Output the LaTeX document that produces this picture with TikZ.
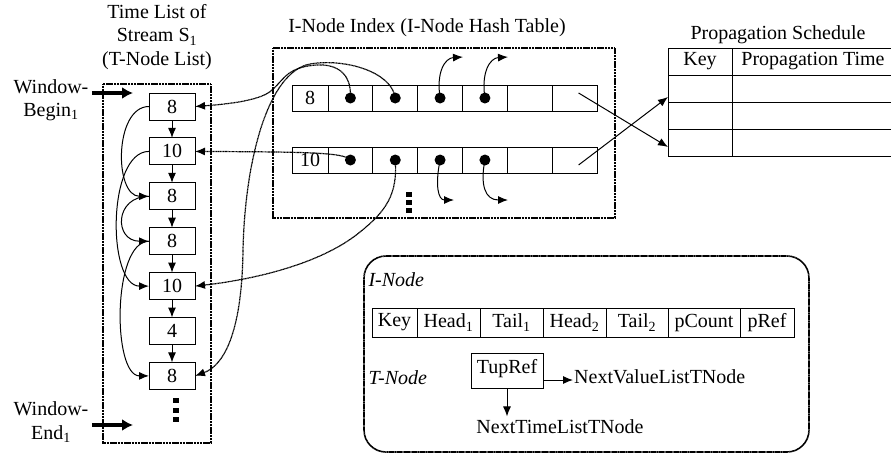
\documentclass[tikz,border=0pt]{standalone}
\usepackage{fontspec}
\setmainfont{Liberation Serif}
\usetikzlibrary{arrows.meta,positioning}

\newcommand{\figfont}{\fontsize{20}{23.5}\selectfont}

\begin{document}
\begin{tikzpicture}[
    x=1pt, y=-1pt,
    every node/.style={font=\figfont},
    frame/.style={line width=1.6pt, dash pattern=on 1.2pt off 0.35pt},
    tnode/.style={draw, line width=0.9pt, minimum width=46pt, minimum height=27pt, inner sep=0pt, outer sep=0pt},
    cell/.style={draw, line width=0.9pt, minimum width=44.8pt, minimum height=26pt, inner sep=0pt, outer sep=0pt},
    tcell/.style={draw, line width=0.9pt, minimum height=27pt, inner sep=0pt, outer sep=0pt},
    field/.style={draw, line width=0.9pt, minimum height=29pt, inner sep=0pt, outer sep=0pt},
    dot/.style={circle, fill, inner sep=0pt, minimum size=11pt},
    ptr/.style={line width=1.2pt, dash pattern=on 1pt off 0.45pt, -{Latex[length=10pt,width=8pt]}},
    link/.style={line width=1pt, -{Latex[length=10pt,width=8pt]}},
    wptr/.style={line width=3.8pt, -{Latex[length=11pt,width=12pt]}}
]
    \useasboundingbox (0,0) rectangle (891,456);

    % Time list of stream S1
    \node[align=center] (tltitle) at (157,37) {Time List of\\Stream S\textsubscript{1}\\(T-Node List)};
    \draw[frame] (103,84) rectangle (211,443);

    \foreach \v [count=\i] in {8,10,8,8,10,4,8} {
        \pgfmathsetmacro{\ty}{106.5 + (\i-1)*44.9}
        \node[tnode] (t\i) at (172,\ty) {\v};
    }
    \foreach \i [evaluate=\i as \j using int(\i+1)] in {1,...,6} {
        \draw[link] (t\i.south) -- (t\j.north);
    }
    \foreach \k in {0,1,2} {
        \fill (173,398+\k*9.5) rectangle ++(6,5);
    }

    % value list links
    \draw[link] (t1.west) to[out=180,in=180,looseness=1] (t3.west);
    \draw[link] (t2.west) to[out=180,in=180,looseness=0.8] (t5.west);
    \draw[link] (t3.west) to[out=180,in=180,looseness=2] (t4.west);
    \draw[link] (t4.west) to[out=180,in=180,looseness=0.7] (t7.west);

    % window pointers
    \node[align=center] (wb) at (51,100) {Window-\\Begin\textsubscript{1}};
    \coordinate (wbe) at (133,93);
    \draw[wptr] (wb.east |- wbe) -- (wbe);
    \node[align=center] (we) at (51,422) {Window-\\End\textsubscript{1}};
    \coordinate (wee) at (133,425);
    \draw[wptr] (we.east |- wee) -- (wee);

    %%%%%%%%%%%%%%%%%%%%%%%%%%%%%%%%%%%%%%%%%%%%%%%%%%%%%%%%%%%%%%%%%%%%%%%%%%%%%%%%%%%%

    % I-Node hash table
    \node (hititle) at (427,28) {I-Node Index (I-Node Hash Table)};
    \draw[frame] (273,48) rectangle (615,218);

    \node[cell, minimum width=36pt] (a0) at (310,98) {8};
    \node[cell, minimum width=36pt] (b0) at (310,160) {10};
    \foreach \k in {1,...,6} {
        \pgfmathsetmacro{\cx}{328 + 44.83*\k - 22.4}
        \node[cell] (a\k) at (\cx,98) {};
        \node[cell] (b\k) at (\cx,160) {};
    }
    \foreach \k in {1,...,4} {
        \node[dot] (da\k) at (a\k) {};
        \node[dot] (db\k) at (b\k) {};
    }
    \foreach \k in {0,1,2} {
        \fill (406,192+\k*8) rectangle ++(6,5);
    }

    % head / tail pointers into the time list
    \draw[ptr] (da1.center) .. controls (352,68) and (330,62) .. (308,66)
        .. controls (285,70) and (282,82) .. (272,90)
        .. controls (262,100) and (230,104) .. (t1.east);
    \draw[ptr] (db1.center) .. controls (345,152) and (300,152) .. (t2.east);
    \draw[ptr] (da2.center) .. controls (392,72) and (345,58) .. (310,64)
        .. controls (268,72) and (245,160) .. (243,250)
        .. controls (242,330) and (225,365) .. (t7.east);
    \draw[ptr] (db2.center) .. controls (398,195) and (385,212) .. (360,232)
        .. controls (320,265) and (250,280) .. (t5.east);

    % pointers of the value lists
    \coordinate (ua3) at (463,57);
    \coordinate (ua4) at (508,57);
    \coordinate (ub3) at (454,200);
    \coordinate (ub4) at (508,200);
    \draw[link] (da3.center) .. controls (436,72) and (445,58) .. (ua3);
    \draw[link] (da4.center) .. controls (481,72) and (490,58) .. (ua4);
    \draw[link] (db3.center) .. controls (435,185) and (438,200) .. (ub3);
    \draw[link] (db4.center) .. controls (480,185) and (485,200) .. (ub4);

    %%%%%%%%%%%%%%%%%%%%%%%%%%%%%%%%%%%%%%%%%%%%%%%%%%%%%%%%%%%%%%%%%%%%%%%%%%%%%%%%%%%%

    % Propagation schedule
    \node (pstitle) at (778,35) {Propagation Schedule};
    \node[tcell, minimum width=64pt] (k0) at (700,61.5) {Key};
    \node[tcell, minimum width=162pt, right=0pt of k0] (v0) {Propagation Time};
    \foreach \r [evaluate=\r as \p using int(\r-1)] in {1,2,3} {
        \node[tcell, minimum width=64pt, below=0pt of k\p] (k\r) {};
        \node[tcell, minimum width=162pt, right=0pt of k\r] (v\r) {};
    }
    \draw[link] ([shift={(4,-5)}]a6.center) -- ([yshift=-4.5pt]k3.west);
    \draw[link] ([shift={(4,5)}]b6.center) -- ([yshift=-8.5pt]k1.west);

    %%%%%%%%%%%%%%%%%%%%%%%%%%%%%%%%%%%%%%%%%%%%%%%%%%%%%%%%%%%%%%%%%%%%%%%%%%%%%%%%%%%%

    % Legend: I-Node and T-Node layout
    \draw[frame, rounded corners=22pt] (364,256) rectangle (809,452);
    \node[anchor=west, font=\figfont\itshape] (inlbl) at (365,280) {I-Node};
    \node[field, minimum width=45pt] (f1) at (394.5,322.5) {Key};
    \node[field, minimum width=63pt, right=0pt of f1] (f2) {Head\textsubscript{1}};
    \node[field, minimum width=63pt, right=0pt of f2] (f3) {Tail\textsubscript{1}};
    \node[field, minimum width=63pt, right=0pt of f3] (f4) {Head\textsubscript{2}};
    \node[field, minimum width=62pt, right=0pt of f4] (f5) {Tail\textsubscript{2}};
    \node[field, minimum width=72pt, right=0pt of f5] (f6) {pCount};
    \node[field, minimum width=54pt, right=0pt of f6] (f7) {pRef};

    \node[anchor=west, font=\figfont\itshape] (tnlbl) at (365,378) {T-Node};
    \node[draw, line width=0.9pt, minimum width=72pt, minimum height=35pt, inner sep=0pt, outer sep=0pt, text depth=9pt] (tup) at (507,370.5) {TupRef};
    \node[anchor=west, inner sep=1pt] (nv) at (573,377) {NextValueListTNode};
    \node (nt) at (560,427) {NextTimeListTNode};
    \draw[link] ([yshift=-9.5pt]tup.east) -- ([yshift=-3pt]nv.west);
    \draw[link] (tup.south) -- (tup.south |- nt.north);
\end{tikzpicture}
\end{document}
